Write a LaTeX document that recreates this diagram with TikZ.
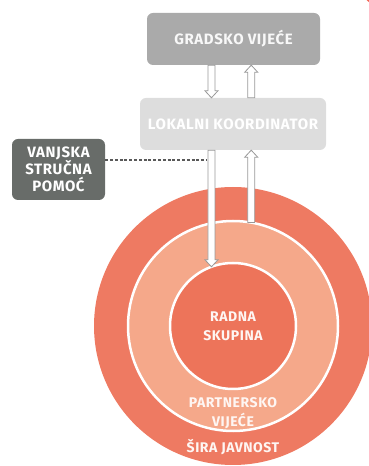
\documentclass[tikz,border=0pt]{standalone}
\usepackage{fontspec}
\setmainfont{Fira Sans}[LetterSpace=4]
\definecolor{SalmonRing}{RGB}{238,122,98}
\definecolor{PeachRing}{RGB}{245,168,138}
\definecolor{CoralCore}{RGB}{237,116,90}
\definecolor{SilverBox}{RGB}{170,170,170}
\definecolor{MistBox}{RGB}{221,221,221}
\definecolor{SlateBox}{RGB}{104,108,105}
\colorlet{ColourEdge}{black!40}
\colorlet{ColourDash}{black!65}
\usetikzlibrary{arrows.meta}
\usetikzlibrary{calc}

\begin{document}
\begin{tikzpicture}[x=1pt,y=1pt,
    box/.style={rounded corners=6pt,inner sep=0pt,align=center,text=white,
      font=\bfseries\fontsize{15}{17}\selectfont},
    ring/.style={circle,inner sep=0pt,outer sep=0pt},
    ringlabel/.style={text=white!90!PeachRing,align=center,
      font=\bfseries\fontsize{14}{19}\selectfont},
    hollow/.style={draw=ColourEdge,fill=white,line width=0.8pt,to path={
      let \p1=(\tikztostart), \p2=(\tikztotarget), \n1={ifthenelse(\y2>\y1,1,-1)} in
      (\x1-3.5pt,\y1) -- (\x1-3.5pt,\y2-\n1*7pt) -- (\x1-6.5pt,\y2-\n1*7pt) -- (\x1,\y2)
      -- (\x1+6.5pt,\y2-\n1*7pt) -- (\x1+3.5pt,\y2-\n1*7pt) -- (\x1+3.5pt,\y1) -- cycle}}]

  \useasboundingbox (0,0) rectangle (369,466);

  % corner mark
  \fill[SalmonRing!85!red] (380,478) circle (18);

  % rings
  \node[ring,fill=SalmonRing,minimum size=278] (public) at (233,140) {};
  \node[ring,fill=PeachRing,draw=white,line width=2.5pt,minimum size=210] (partners) at (233,140) {};
  \node[ring,fill=CoralCore,draw=white,line width=2.5pt,minimum size=126] (group) at (233,140) {};

  \node[ringlabel] (grouptext) at (233,140) {RADNA\\SKUPINA};
  \node[ringlabel] (partnerstext) at (233,53) {PARTNERSKO\\VIJEĆE};
  \node[ringlabel] (publictext) at (233,19) {ŠIRA JAVNOST};

  % boxes
  \node[box,fill=SilverBox,text=white!92!SilverBox,minimum width=173,minimum height=52] (council) at (233.5,427) {GRADSKO VIJEĆE};
  \node[box,fill=MistBox,minimum width=186,minimum height=52] (coordinator) at (233,342) {LOKALNI KOORDINATOR};
  \node[box,fill=SlateBox,minimum width=93,minimum height=61] (expert) at (58.5,296.5) {VANJSKA\\STRUČNA\\POMOĆ};

  % arrows
  \coordinate (downx) at (group.110);
  \coordinate (upx) at (partners.80);
  \coordinate (dashend) at (207,306);

  \draw[hollow] (council.south -| downx) to (coordinator.north -| downx);
  \draw[hollow] (coordinator.north -| upx) to (council.south -| upx);
  \draw[hollow] (coordinator.south -| downx) to (downx);
  \draw[hollow] (upx) to (coordinator.south -| upx);

  \draw[ColourDash,line width=1.2pt,dash pattern=on 3pt off 1.8pt] (expert.east |- dashend) -- (dashend);

\end{tikzpicture}
\end{document}
